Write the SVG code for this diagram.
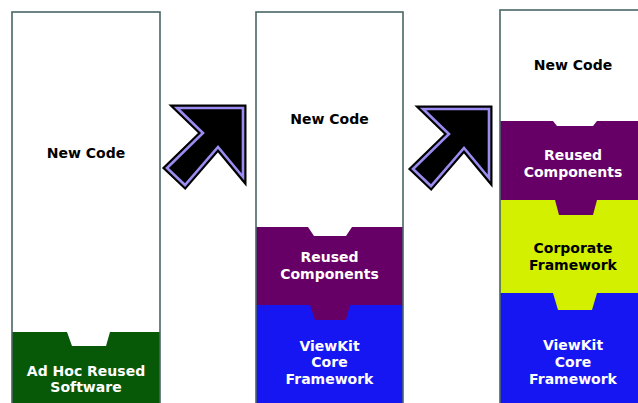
<svg xmlns="http://www.w3.org/2000/svg" width="638" height="403" viewBox="0 0 638 403">
<defs>
<style>
.t{font-family:"DejaVu Sans","Liberation Sans",sans-serif;font-weight:bold;font-size:14px;text-anchor:middle}
.w{fill:#fff}
.k{fill:#000}
.col{fill:none;stroke:#4a6666;stroke-width:1.6}
.green{fill:#075807}
.purple{fill:#660066}
.blue{fill:#1616f2}
.yellow{fill:#d2f000}
.arrO{fill:#000;stroke:#000;stroke-width:7;stroke-linejoin:miter}
.arrI{fill:#000;stroke:#9a8cf0;stroke-width:2.6;stroke-linejoin:miter}
</style>
<polygon id="arrowShape" points="177,108 243,108 243,177 218,147 185,185 167,168 203,133"/>
</defs>
<rect width="638" height="403" fill="#fff"/>

<g id="stack1">
<rect x="12" y="12" width="148" height="400" fill="#fff"/>
<path class="green" d="M12,332 L67,332 L72,346 L106,346 L110,332 L160,332 L160,410 L12,410 Z"/>
<rect class="col" x="12" y="12" width="148" height="400"/>
<text class="t k" x="86" y="158">New Code</text>
<text class="t w" x="86" y="376">Ad Hoc Reused</text>
<text class="t w" x="86" y="392">Software</text>
</g>

<g id="stack2">
<rect x="256" y="12" width="147" height="400" fill="#fff"/>
<path class="purple" d="M256,227 L308,227 L314,236 L346,236 L352,227 L403,227 L403,410 L256,410 Z"/>
<path class="blue" d="M256,305 L310,305 L315,320 L346,320 L350,305 L403,305 L403,410 L256,410 Z"/>
<rect class="col" x="256" y="12" width="147" height="400"/>
<text class="t k" x="329.5" y="124">New Code</text>
<text class="t w" x="329.5" y="262">Reused</text>
<text class="t w" x="329.5" y="279">Components</text>
<text class="t w" x="329.5" y="351">ViewKit</text>
<text class="t w" x="329.5" y="367">Core</text>
<text class="t w" x="329.5" y="384">Framework</text>
</g>

<g id="stack3">
<rect x="500" y="10" width="146" height="400" fill="#fff"/>
<path class="purple" d="M500,121 L553,121 L557,126 L593,126 L597,121 L646,121 L646,410 L500,410 Z"/>
<path class="yellow" d="M500,200 L555,200 L559,215 L593,215 L597,200 L646,200 L646,410 L500,410 Z"/>
<path class="blue" d="M500,293 L553,293 L558,310 L592,310 L597,293 L646,293 L646,410 L500,410 Z"/>
<rect class="col" x="500" y="10" width="146" height="400"/>
<text class="t k" x="573" y="70">New Code</text>
<text class="t w" x="573" y="160">Reused</text>
<text class="t w" x="573" y="177">Components</text>
<text class="t k" x="573" y="253">Corporate</text>
<text class="t k" x="573" y="270">Framework</text>
<text class="t w" x="573" y="350">ViewKit</text>
<text class="t w" x="573" y="367">Core</text>
<text class="t w" x="573" y="384">Framework</text>
</g>

<g id="connectors">
<use href="#arrowShape" class="arrO"/>
<use href="#arrowShape" class="arrI"/>
<use href="#arrowShape" class="arrO" transform="translate(246,1)"/>
<use href="#arrowShape" class="arrI" transform="translate(246,1)"/>
</g>
</svg>
